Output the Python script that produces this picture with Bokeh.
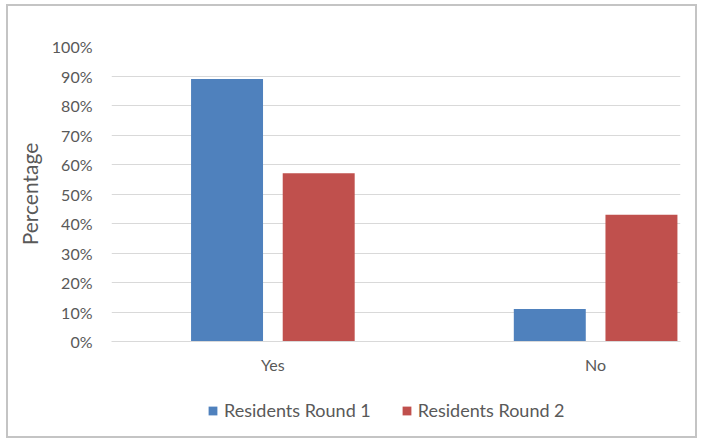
from bokeh.plotting import figure
from bokeh.layouts import column
from bokeh.models import Range1d, FixedTicker, Legend, LegendItem, ColumnDataSource, NumeralTickFormatter
from bokeh.embed import file_html
from bokeh.resources import INLINE

categories = ["Yes", "No"]
round1 = [0.89, 0.11]
round2 = [0.57, 0.43]
series_names = ["Residents Round 1", "Residents Round 2"]
colors = ["#4F81BD", "#C0504D"]
y_ticks = [0.0, 0.1, 0.2, 0.3, 0.4, 0.5, 0.6, 0.7, 0.8, 0.9, 1.0]

FONT = "Lato"
GRAY = "#595959"
BORDER = "2px solid #c4c4c4"

centers = [i + 0.5 for i in range(len(categories))]
offset = 0.142
bar_w = 0.223

p = figure(width=691, height=375, output_backend="svg", toolbar_location=None,
           x_range=Range1d(0, 1.763), y_range=Range1d(0, 1),
           min_border_left=103, min_border_top=40, min_border_bottom=40, min_border_right=19)
p.styles = {"border-left": BORDER, "border-right": BORDER, "border-top": BORDER}
p.outline_line_color = None
p.background_fill_color = "white"
p.border_fill_color = "white"

sources = []
for vals, dx, c in zip([round1, round2], [-offset, offset], colors):
    src = ColumnDataSource(dict(x=[cx + dx for cx in centers], top=vals))
    sources.append(src)
    p.vbar(x="x", top="top", width=bar_w, source=src, fill_color=c, line_color=None)

p.xgrid.grid_line_color = None
p.ygrid.grid_line_color = "#d9d9d9"
p.ygrid.grid_line_width = 1

p.yaxis.ticker = FixedTicker(ticks=y_ticks)
p.yaxis.formatter = NumeralTickFormatter(format="0%")
p.yaxis.axis_line_color = None
p.yaxis.major_tick_line_color = None
p.yaxis.minor_tick_line_color = None
p.yaxis.major_label_text_font = FONT
p.yaxis.major_label_text_font_size = "16px"
p.yaxis.major_label_text_color = GRAY
p.yaxis.major_label_standoff = 13
p.yaxis.axis_label = "Percentage"
p.yaxis.axis_label_text_font = FONT
p.yaxis.axis_label_text_font_size = "21px"
p.yaxis.axis_label_text_font_style = "normal"
p.yaxis.axis_label_text_color = GRAY
p.yaxis.axis_label_standoff = 7

p.xaxis.ticker = FixedTicker(ticks=centers)
p.xaxis.major_label_overrides = {c: lab for c, lab in zip(centers, categories)}
p.xaxis.axis_line_color = "#d9d9d9"
p.xaxis.major_tick_line_color = None
p.xaxis.minor_tick_line_color = None
p.xaxis.major_label_text_font = FONT
p.xaxis.major_label_text_font_size = "16px"
p.xaxis.major_label_text_color = GRAY
p.xaxis.major_label_standoff = 7

# legend strip below the chart (bars kept out of view, only their legend swatches show)
p2 = figure(width=691, height=59, output_backend="svg", toolbar_location=None,
            x_axis_type=None, y_axis_type=None, x_range=Range1d(0, 1), y_range=Range1d(5, 6),
            min_border=0)
p2.styles = {"border-left": BORDER, "border-right": BORDER, "border-bottom": BORDER}
p2.outline_line_color = None
p2.xgrid.grid_line_color = None
p2.ygrid.grid_line_color = None
leg_renderers = [p2.vbar(x="x", top="top", width=bar_w, source=s, fill_color=c, line_color=None)
                 for s, c in zip(sources, colors)]
legend = Legend(items=[LegendItem(label=n, renderers=[r]) for n, r in zip(series_names, leg_renderers)],
                orientation="horizontal", location=(96, 17),
                label_text_font=FONT, label_text_font_size="18px", label_text_color=GRAY,
                glyph_width=11, glyph_height=11, spacing=30, label_standoff=6,
                border_line_color=None, background_fill_alpha=0, margin=0, padding=4)
p2.add_layout(legend, "center")

layout = column(p, p2, spacing=0)
layout.styles = {"margin-left": "6px", "margin-top": "4px"}

open("out.html", "w").write(file_html(layout, INLINE))
